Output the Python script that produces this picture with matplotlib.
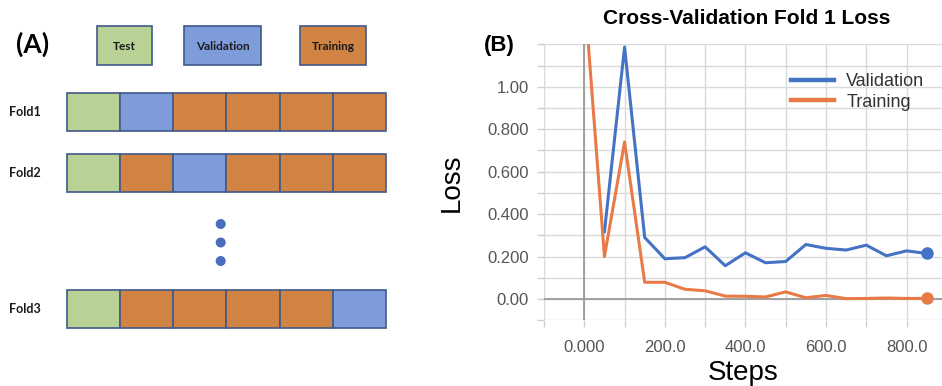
import numpy as np
from matplotlib import pyplot as plt
from matplotlib.patches import Rectangle, Circle

# Panel A: fold layout
parts = ["Test", "Validation", "Training"]
folds = ["Fold1", "Fold2", "Fold3"]
fold_parts = [
    ["Test", "Validation", "Training", "Training", "Training", "Training"],
    ["Test", "Training", "Validation", "Training", "Training", "Training"],
    ["Test", "Training", "Training", "Training", "Training", "Validation"],
]

# Panel B: loss curves
train_steps = [0, 50, 100, 150, 200, 250, 300, 350, 400, 450, 500,
               550, 600, 650, 700, 750, 800, 850]
train_loss = [1.45, 0.20, 0.74, 0.079, 0.079, 0.046, 0.039, 0.014, 0.013, 0.010,
              0.034, 0.006, 0.017, 0.002, 0.003, 0.005, 0.003, 0.003]
val_steps = [50, 100, 150, 200, 250, 300, 350, 400, 450, 500,
             550, 600, 650, 700, 750, 800, 850]
val_loss = [0.317, 1.187, 0.29, 0.19, 0.195, 0.246, 0.157, 0.218, 0.171, 0.177,
            0.257, 0.239, 0.231, 0.254, 0.204, 0.227, 0.215]

y_ticks = [0.0, 0.2, 0.4, 0.6, 0.8, 1.0]
y_labels = ["0.00", "0.200", "0.400", "0.600", "0.800", "1.00"]
x_ticks = [0, 200, 400, 600, 800]
x_labels = ["0.000", "200.0", "400.0", "600.0", "800.0"]

fill = {"Test": "#b7d294", "Validation": "#7e9bda", "Training": "#d08342"}
edge = "#41598a"

W, H = 942, 386
fig = plt.figure(figsize=(W / 100, H / 100), dpi=100)

# ---- panel A, drawn in pixel units ----
axA = fig.add_axes([0, 0, 440 / W, 1])
axA.set_xlim(0, 440)
axA.set_ylim(H, 0)
axA.axis("off")

font_a = ["Lato", "DejaVu Sans"]
axA.text(33, 44, "(A)", fontsize=19, fontweight="bold", ha="center", va="center", family=font_a)

key_x = [97, 184, 300]
key_w = [55, 77, 66]
for name, x, w in zip(parts, key_x, key_w):
    axA.add_patch(Rectangle((x, 26), w, 39, facecolor=fill[name], edgecolor=edge, lw=1.2))
    axA.text(x + w / 2, 46, name, fontsize=8.5, fontweight="bold", ha="center", va="center",
             family=font_a, color="#1a1a1a")

row_top = [93, 154, 290]
row_h = 37.5
cell_x0, cell_w = 66.7, 53.2
for fold, top, row in zip(folds, row_top, fold_parts):
    axA.text(9, top + row_h / 2, fold, fontsize=9, fontweight="bold", ha="left", va="center",
             family=font_a, color="#1a1a1a")
    for i, name in enumerate(row):
        axA.add_patch(Rectangle((cell_x0 + i * cell_w, top), cell_w, row_h,
                                facecolor=fill[name], edgecolor=edge, lw=1.2))

for cy in [224, 242.5, 261]:
    axA.add_patch(Circle((220.7, cy), 5, facecolor="#4a6cc0", edgecolor="none"))

# ---- panel B ----
left, right, top, bottom = 544, 942, 44.3, 320.3
axB = fig.add_axes([left / W, (H - bottom) / H, (right - left) / W, (bottom - top) / H])
axB.set_xlim(-100, 888)
axB.set_ylim(-0.1, 1.2)
for s in axB.spines.values():
    s.set_visible(False)

axB.set_xticks(x_ticks)
axB.set_xticklabels(x_labels)
axB.set_xticks(np.arange(-100, 900, 100), minor=True)
axB.set_yticks(y_ticks)
axB.set_yticklabels(y_labels)
axB.set_yticks(np.arange(-0.1, 1.25, 0.1), minor=True)
axB.grid(which="both", color="#dadada", lw=1.0)
axB.set_axisbelow(True)
axB.tick_params(which="both", length=5, color="#cfcfcf", width=1.0)
axB.tick_params(axis="x", labelsize=12, labelcolor="#555555", pad=9)
axB.tick_params(axis="y", labelsize=12, labelcolor="#555555", pad=6)
for lab in axB.get_xticklabels() + axB.get_yticklabels():
    lab.set_family(["Liberation Sans", "DejaVu Sans"])

axB.axhline(0, color="#9a9a9a", lw=1.3, zorder=1)
axB.axvline(0, color="#9a9a9a", lw=1.3, zorder=1)

c_val, c_train = "#4472c4", "#e87a48"
axB.plot(val_steps, val_loss, color=c_val, lw=2.2, label="Validation", zorder=3)
axB.plot(train_steps, train_loss, color=c_train, lw=2.2, label="Training", zorder=3)
axB.plot(val_steps[-1], val_loss[-1], "o", color=c_val, ms=8, zorder=4)
axB.plot(train_steps[-1], train_loss[-1], "o", color=c_train, ms=8, zorder=4)

leg = axB.legend(loc="upper left", bbox_to_anchor=(0.58, 0.955), frameon=False,
                 prop={"family": "Liberation Sans", "size": 13}, handlelength=2.4,
                 handletextpad=0.65, labelspacing=0.2)
for line in leg.get_lines():
    line.set_linewidth(3.2)
for t in leg.get_texts():
    t.set_color("#333333")

axB.set_xlabel("Steps", fontsize=20, family="Liberation Sans", labelpad=4)
axB.set_ylabel("Loss", fontsize=20, family="Liberation Sans", labelpad=16)

fig.text(747 / W, 1 - 18 / H, "Cross-Validation Fold 1 Loss", fontsize=15, fontweight="bold",
         family="Liberation Sans", ha="center", va="center")
fig.text(499 / W, 1 - 45 / H, "(B)", fontsize=16, fontweight="bold",
         family="Liberation Sans", ha="center", va="center")

fig.savefig("out.png", dpi=100)
